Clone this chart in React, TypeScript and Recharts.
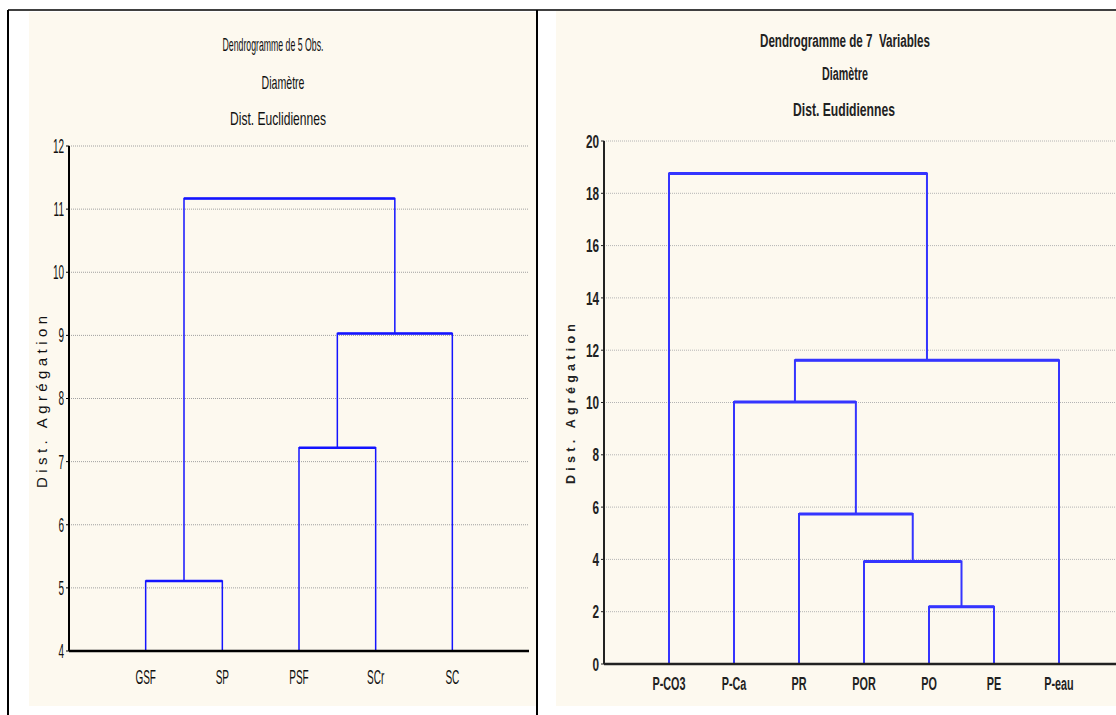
import React from 'react'
import { ComposedChart, Line, XAxis, YAxis, CartesianGrid } from 'recharts'

// Left panel: 5 observations
const obsLabels = ['GSF', 'SP', 'PSF', 'SCr', 'SC']
// [left node, right node, height]; leaves are 0..n-1, each merge adds node n+k
const obsMerges: [number, number, number][] = [
  [0, 1, 5.11],
  [2, 3, 7.22],
  [6, 4, 9.03],
  [5, 7, 11.17],
]
const obsYTicks = [4, 5, 6, 7, 8, 9, 10, 11, 12]
const obsMinorTicks = [
  4.25, 4.5, 4.75, 5.25, 5.5, 5.75, 6.25, 6.5, 6.75, 7.25, 7.5, 7.75,
  8.25, 8.5, 8.75, 9.25, 9.5, 9.75, 10.25, 10.5, 10.75, 11.25, 11.5, 11.75,
]

// Right panel: 7 variables
const varLabels = ['P-CO3', 'P-Ca', 'PR', 'POR', 'PO', 'PE', 'P-eau']
const varMerges: [number, number, number][] = [
  [4, 5, 2.19],
  [3, 7, 3.92],
  [2, 8, 5.74],
  [1, 9, 10.02],
  [10, 6, 11.62],
  [0, 11, 18.76],
]
const varYTicks = [0, 2, 4, 6, 8, 10, 12, 14, 16, 18, 20]
const varMinorTicks = [1, 3, 5, 7, 9, 11, 13, 15, 17, 19]

const SANS = "'Liberation Sans', Arial, sans-serif"

interface Pt {
  x: number
  y: number
}

function buildTree(count: number, merges: [number, number, number][], base: number) {
  const xs: number[] = Array.from({ length: count }, (_, i) => i + 1)
  const hs: number[] = Array(count).fill(base)
  return merges.map(([a, b, h], k) => {
    const path: Pt[] = [
      { x: xs[a], y: hs[a] },
      { x: xs[a], y: h },
      { x: xs[b], y: h },
      { x: xs[b], y: hs[b] },
    ]
    const bar: Pt[] = [
      { x: xs[a], y: h },
      { x: xs[b], y: h },
    ]
    xs.push((xs[a] + xs[b]) / 2)
    hs.push(h)
    return { id: `link-${k}`, path, bar }
  })
}

interface TickStyle {
  size: number
  sx: number
  weight: string
  color: string
}

function CondensedText({
  x,
  y,
  text,
  anchor,
  st,
}: {
  x: number
  y: number
  text: string
  anchor: 'start' | 'middle' | 'end'
  st: TickStyle
}) {
  return (
    <text
      transform={`translate(${x},${y}) scale(${st.sx},1)`}
      textAnchor={anchor}
      dominantBaseline="central"
      fontSize={st.size}
      fontFamily={SANS}
      fontWeight={st.weight}
      fill={st.color}
      style={{ fontSize: st.size }}
    >
      {text}
    </text>
  )
}

interface DendroProps {
  labels: string[]
  merges: [number, number, number][]
  yTicks: number[]
  minorTicks: number[]
  width: number
  height: number
  margin: { top: number; right: number; bottom: number; left: number }
  color: string
  legW: number
  barW: number
  axisColor: string
  gridColor: string
  xLabelDy: number
  xTickStyle: TickStyle
  yTickStyle: TickStyle
}

function Dendrogram(p: DendroProps) {
  const base = p.yTicks[0]
  const top = p.yTicks[p.yTicks.length - 1]
  const links = buildTree(p.labels.length, p.merges, base)
  const catTicks = p.labels.map((_, i) => i + 1)
  const xDomain = [0, p.labels.length + 1]
  return (
    <ComposedChart width={p.width} height={p.height} margin={p.margin}>
      <CartesianGrid vertical={false} stroke={p.gridColor} strokeDasharray="1 1" />
      <XAxis
        type="number"
        dataKey="x"
        domain={xDomain}
        ticks={catTicks}
        interval={0}
        allowDataOverflow
        height={30}
        tickSize={0}
        tickMargin={0}
        tickLine={false}
        axisLine={{ stroke: p.axisColor, strokeWidth: 2.5 }}
        tick={(t: any) => (
          <CondensedText
            x={t.x}
            y={t.y + p.xLabelDy}
            text={p.labels[t.payload.value - 1] ?? ''}
            anchor="middle"
            st={p.xTickStyle}
          />
        )}
      />
      <XAxis
        xAxisId="top"
        orientation="top"
        type="number"
        domain={xDomain}
        ticks={catTicks}
        interval={0}
        height={0}
        mirror
        tick={false}
        tickSize={4}
        tickLine={{ stroke: p.axisColor, strokeWidth: 1.5 }}
        axisLine={{ stroke: p.axisColor, strokeWidth: 2 }}
      />
      <YAxis
        type="number"
        domain={[base, top]}
        ticks={p.yTicks}
        interval={0}
        allowDataOverflow
        width={30}
        tickSize={3}
        tickMargin={2}
        tickLine={{ stroke: p.axisColor }}
        axisLine={{ stroke: p.axisColor, strokeWidth: 2 }}
        tick={(t: any) => (
          <CondensedText x={t.x} y={t.y} text={String(t.payload.value)} anchor="end" st={p.yTickStyle} />
        )}
      />
      <YAxis
        yAxisId="minor"
        type="number"
        domain={[base, top]}
        ticks={p.minorTicks}
        interval={0}
        width={0}
        mirror
        tick={false}
        tickSize={3}
        axisLine={false}
        tickLine={{ stroke: p.axisColor }}
      />
      <YAxis
        yAxisId="right"
        orientation="right"
        type="number"
        domain={[base, top]}
        ticks={p.yTicks}
        interval={0}
        width={0}
        mirror
        tick={false}
        tickSize={3}
        tickLine={{ stroke: p.axisColor }}
        axisLine={{ stroke: p.axisColor, strokeWidth: 1.5 }}
      />
      {links.map((l) => (
        <Line
          key={l.id + '-path'}
          data={l.path}
          dataKey="y"
          type="linear"
          stroke={p.color}
          strokeWidth={p.legW}
          dot={false}
          activeDot={false}
          isAnimationActive={false}
        />
      ))}
      {links.map((l) => (
        <Line
          key={l.id + '-bar'}
          data={l.bar}
          dataKey="y"
          type="linear"
          stroke={p.color}
          strokeWidth={p.barW}
          dot={false}
          activeDot={false}
          isAnimationActive={false}
        />
      ))}
    </ComposedChart>
  )
}

const CREAM = '#fdf9ef'

export default function App() {
  return (
    <div
      style={{
        position: 'absolute',
        left: 0,
        top: 0,
        width: 1116,
        height: 715,
        background: '#fff',
        overflow: 'hidden',
      }}
    >
      <div style={{ position: 'absolute', left: 29, top: 12, width: 507, height: 694, background: CREAM }} />
      <div style={{ position: 'absolute', left: 556, top: 11, width: 600, height: 695, background: CREAM }} />

      <div style={{ position: 'absolute', left: 29, top: 13 }}>
        <Dendrogram
          labels={obsLabels}
          merges={obsMerges}
          yTicks={obsYTicks}
          minorTicks={obsMinorTicks}
          width={504}
          height={693}
          margin={{ top: 133, right: 4, bottom: 25, left: 10 }}
          color="#1414ff"
          legW={1.5}
          barW={2.5}
          axisColor="#000"
          gridColor="#a0a0a0"
          xLabelDy={26}
          xTickStyle={{ size: 20, sx: 0.5, weight: 'normal', color: '#111' }}
          yTickStyle={{ size: 20, sx: 0.5, weight: 'normal', color: '#111' }}
        />
      </div>

      <div style={{ position: 'absolute', left: 555, top: 11 }}>
        <Dendrogram
          labels={varLabels}
          merges={varMerges}
          yTicks={varYTicks}
          minorTicks={varMinorTicks}
          width={575}
          height={695}
          margin={{ top: 130, right: 6, bottom: 12, left: 19 }}
          color="#3535ff"
          legW={2}
          barW={3}
          axisColor="#222"
          gridColor="#b4b4b4"
          xLabelDy={19}
          xTickStyle={{ size: 19, sx: 0.57, weight: 'bold', color: '#222' }}
          yTickStyle={{ size: 19, sx: 0.62, weight: 'bold', color: '#222' }}
        />
      </div>

      <svg
        width={1116}
        height={715}
        style={{ position: 'absolute', left: 0, top: 0, pointerEvents: 'none' }}
      >
        {/* table frame */}
        <line x1={8} y1={10} x2={1116} y2={10} stroke="#000" strokeWidth={1.5} />
        <line x1={8} y1={10} x2={8} y2={715} stroke="#000" strokeWidth={2} />
        <line x1={537} y1={10} x2={537} y2={715} stroke="#000" strokeWidth={2} />

        {/* left titles */}
        <g fontFamily={SANS} fontSize={19} fill="#111" textAnchor="middle" dominantBaseline="central">
          <text x={273} y={44.5} textLength={101} lengthAdjust="spacingAndGlyphs">
            Dendrogramme de 5 Obs.
          </text>
          <text x={283} y={82} textLength={43} lengthAdjust="spacingAndGlyphs">
            Diamètre
          </text>
          <text x={278} y={118} textLength={96} lengthAdjust="spacingAndGlyphs">
            Dist. Euclidiennes
          </text>
        </g>

        {/* right titles */}
        <g
          fontFamily={SANS}
          fontSize={18}
          fontWeight="bold"
          fill="#222"
          textAnchor="middle"
          dominantBaseline="central"
        >
          <text x={845} y={41} textLength={170} lengthAdjust="spacingAndGlyphs">
            {'Dendrogramme de 7\u00a0 Variables'}
          </text>
          <text x={845} y={73.5} textLength={46} lengthAdjust="spacingAndGlyphs">
            Diamètre
          </text>
          <text x={844} y={109.5} textLength={102} lengthAdjust="spacingAndGlyphs">
            Dist. Eudidiennes
          </text>
        </g>

        {/* y axis titles */}
        <text
          transform="translate(41,402) rotate(-90)"
          textAnchor="middle"
          dominantBaseline="central"
          fontFamily={SANS}
          fontSize={15}
          fill="#111"
          textLength={172}
          lengthAdjust="spacing"
        >
          Dist. Agrégation
        </text>
        <text
          transform="translate(571,404) rotate(-90)"
          textAnchor="middle"
          dominantBaseline="central"
          fontFamily={SANS}
          fontSize={12.5}
          fontWeight="bold"
          fill="#222"
          textLength={160}
          lengthAdjust="spacing"
        >
          Dist. Agrégation
        </text>
      </svg>
    </div>
  )
}
